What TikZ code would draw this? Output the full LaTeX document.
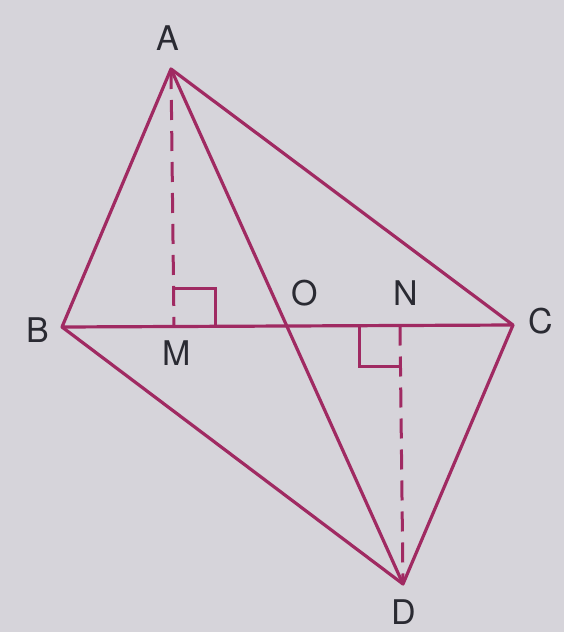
\documentclass[tikz,border=0pt]{standalone}
\usepackage{fontspec}
\setmainfont{TeX Gyre Heros}
\definecolor{bgc}{HTML}{D6D4DA}
\definecolor{linec}{HTML}{A02A62}
\definecolor{txt}{HTML}{2A2A32}
\begin{document}
\begin{tikzpicture}[x=1pt,y=-1pt,
  edge/.style={draw=linec,line width=3.2pt,line join=round},
  dashline/.style={draw=linec,line width=3pt,dash pattern=on 20pt off 11pt},
  ra/.style={draw=linec,line width=3pt},
  lab/.style={text=txt,font=\fontsize{34}{34}\selectfont,inner sep=0pt}]
\fill[bgc] (0,0) rectangle (564,632);
\useasboundingbox (0,0) rectangle (564,632);
\coordinate (A) at (171,69);
\coordinate (B) at (62,327);
\coordinate (C) at (513,325);
\coordinate (D) at (403,584);
\coordinate (M) at (174,326.5);
\coordinate (N) at (400,325.5);
\coordinate (O) at (288,326);
\draw[edge] (A) -- (B) -- (C) -- cycle;
\draw[edge] (B) -- (D) -- (C);
\draw[edge] (A) -- (D);
\draw[dashline] (A) -- (M);
\draw[dashline] (N) -- (D);
\draw[ra] (M) ++(0,-38) coordinate (m1) -- ++(41,0) coordinate (m2) -- ++(0,38);
\draw[ra] (N) ++(0,41) coordinate (n1) -- ++(-41,0) coordinate (n2) -- ++(0,-41);
\node[lab] (lA) at (168,38) {A};
\node[lab] (lB) at (38,330) {B};
\node[lab] (lC) at (541,321) {C};
\node[lab] (lD) at (404,612) {D};
\node[lab] (lM) at (177,353) {M};
\node[lab] (lO) at (305,293) {O};
\node[lab] (lN) at (406,293) {N};
\end{tikzpicture}
\end{document}
